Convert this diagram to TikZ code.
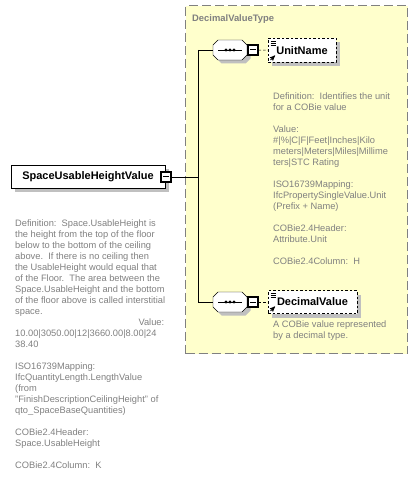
\documentclass[tikz,border=0pt]{standalone}
\usepackage{fontspec}
\setmainfont{Liberation Sans}
\usetikzlibrary{positioning, shadows, arrows}
\definecolor{typeyellow}{RGB}{255,255,204}
\definecolor{typegray}{RGB}{128,128,128}
\definecolor{shadowgray}{RGB}{192,192,192}
\tikzset{
  x=1pt, y=-1pt,
  line width=1pt,
  shade box/.style={drop shadow={shadow xshift=4pt, shadow yshift=-4pt, fill=shadowgray, opacity=1}},
  typebox/.style={draw=typegray, fill=typeyellow, dash pattern=on 9pt off 4pt, line width=1.2pt, inner sep=0pt},
  element/.style={draw, fill=white, shade box, inner sep=0pt, font=\fontsize{11}{13}\selectfont\bfseries},
  optional/.style={element, dash pattern=on 2.5pt off 2pt,
    path picture={
      \foreach \k in {2.5,4.5,6.5}
        \draw[solid, line width=0.7pt] ([xshift=2.5pt, yshift=-\k pt]path picture bounding box.north west) -- ++(5,0);
      \draw[solid, line width=0.9pt, -stealth'] ([xshift=2.5pt, yshift=2.5pt]path picture bounding box.south west) -- ++(4.5,-4.5);
    }},
  expander/.style={draw, fill=white, minimum size=10pt, inner sep=0pt, line width=1.3pt,
    path picture={\draw[line width=1pt] ([xshift=2pt]path picture bounding box.west) -- ([xshift=-2pt]path picture bounding box.east);}},
  sequence/.style={minimum width=34pt, minimum height=20pt, inner sep=0pt},
  note/.style={text=typegray, font=\fontsize{9.3}{11}\selectfont, align=left, inner sep=0pt, anchor=north west},
}
% octagon of a sequence compositor round a named point
\newcommand{\octpath}[1]{([shift={(-17pt,5pt)}]#1) -- ([shift={(-12pt,10pt)}]#1) -- ([shift={(12pt,10pt)}]#1) -- ([shift={(17pt,5pt)}]#1) -- ([shift={(17pt,-5pt)}]#1) -- ([shift={(12pt,-10pt)}]#1) -- ([shift={(-12pt,-10pt)}]#1) -- ([shift={(-17pt,-5pt)}]#1) -- cycle}
\newcommand{\seqmark}[1]{%
  \coordinate (#1s) at ([shift={(3.5pt,-3.5pt)}]#1.center);
  \fill[shadowgray] \octpath{#1s};
  \filldraw[fill=white] \octpath{#1.center};
  \draw ([xshift=-12pt]#1.center) -- ([xshift=12pt]#1.center);
  \foreach \d in {-4,0,4}
    \fill ([xshift=\d pt]#1.center) circle (1.6);
}

\begin{document}
\begin{tikzpicture}
	\useasboundingbox (0,0) rectangle (417,486);

	% complex type
	\node[typebox, anchor=north west, minimum width=222pt, minimum height=348pt] (dvt) at (185,5) {};
	\node[anchor=west, inner sep=0pt, text=typegray, font=\fontsize{9.4}{11}\selectfont\bfseries] (dvtname) at (192,19) {DecimalValueType};

	% trunk of the sequence
	\coordinate (top) at (198,50);
	\coordinate (bot) at (198,302);

	% elements
	\node[element, minimum width=154pt, minimum height=23pt] (space) at (88,176.5) {SpaceUsableHeightValue};
	\node[expander] (spacex) at (166,177) {};

	\node[sequence] (seq1) at (230,50) {};
	\seqmark{seq1}
	\node[expander] (seq1x) at (253,50) {};
	\node[optional, minimum width=68pt, minimum height=24pt] (unit) at (302,50.5) {UnitName};

	\node[sequence] (seq2) at (230,302) {};
	\seqmark{seq2}
	\node[expander] (seq2x) at (253,302) {};
	\node[optional, minimum width=89pt, minimum height=23pt] (dec) at (312.5,302) {DecimalValue};

	% connectors
	\draw (spacex) -- (spacex -| top);
	\draw (top) -- (bot);
	\draw (top) -- (seq1);
	\draw (bot) -- (seq2);
	\draw[dash pattern=on 2.5pt off 2pt] (seq1x) -- (unit);
	\draw[dash pattern=on 2.5pt off 2pt] (seq2x) -- (dec);

	% annotations
	\node[note] (unitnote) at (273,92.5) {Definition:\ \ Identifies the unit\\for a COBie value\\[11pt]Value:\\\#|\%|C|F|Feet|Inches|Kilo\\meters|Meters|Miles|Millime\\ters|STC Rating\\[11pt]ISO16739Mapping:\\IfcPropertySingleValue.Unit\\(Prefix + Name)\\[11pt]COBie2.4Header:\\Attribute.Unit\\[11pt]COBie2.4Column:\ \ H};
	\node[note] (decnote) at (273,320.5) {A COBie value represented\\by a decimal type.};
	\node[note] (spacenote) at (15,219.5) {Definition:\ \ Space.UsableHeight is\\the height from the top of the floor\\below to the bottom of the ceiling\\above.\ \ If there is no ceiling then\\the UsableHeight would equal that\\of the Floor.\ \ The area between the\\Space.UsableHeight and the bottom\\of the floor above is called interstitial\\space.\\\makebox[149pt][r]{Value:}\\10.00|3050.00|12|3660.00|8.00|24\\38.40\\[11pt]ISO16739Mapping:\\IfcQuantityLength.LengthValue\\(from\\"FinishDescriptionCeilingHeight" of\\qto\_SpaceBaseQuantities)\\[11pt]COBie2.4Header:\\Space.UsableHeight\\[11pt]COBie2.4Column:\ \ K};

\end{tikzpicture}
\end{document}
